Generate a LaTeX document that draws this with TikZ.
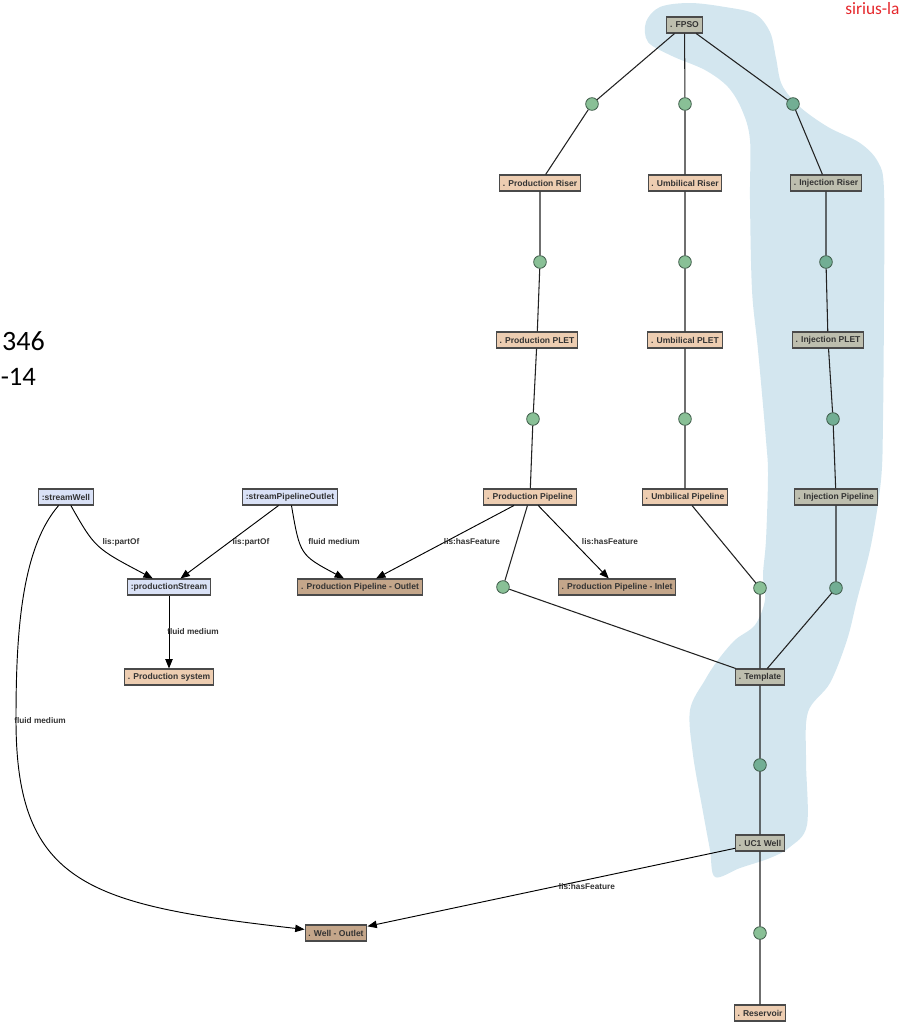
\documentclass[tikz,border=0pt]{standalone}
\usepackage{fontspec}
\setmainfont{Liberation Sans}
\newfontfamily\calibri{Carlito}
\usetikzlibrary{arrows.meta}
\definecolor{peach}{HTML}{EDCDB1}
\definecolor{grayb}{HTML}{BDBEAE}
\definecolor{brownb}{HTML}{C4A68A}
\definecolor{blueb}{HTML}{D9E1F6}
\definecolor{boxline}{HTML}{4A4A4A}
\definecolor{txt}{HTML}{333333}
\definecolor{dotg}{HTML}{89C096}
\definecolor{dott}{HTML}{72AE94}
\definecolor{dotline}{HTML}{3D5A48}
\definecolor{blobc}{HTML}{D3E6EF}
\definecolor{linkc}{HTML}{222222}
\definecolor{redt}{HTML}{E5262B}
\tikzset{
  box/.style={draw=boxline, line width=0.8pt, minimum height=12pt, inner xsep=2.5pt, inner ysep=0pt,
    font=\fontsize{6.4}{7}\selectfont\bfseries, text=txt},
  pbox/.style={box, fill=peach},
  gbox/.style={box, fill=grayb},
  bbox/.style={box, fill=brownb},
  ubox/.style={box, fill=blueb},
  gdot/.style={circle, draw=dotline, fill=dotg, minimum size=9.5pt, inner sep=0pt, line width=0.6pt},
  tdot/.style={gdot, fill=dott},
  link/.style={draw=linkc, line width=0.8pt},
  arr/.style={draw=black, line width=0.7pt, -{Triangle[length=7pt,width=5.5pt]}},
  lbl/.style={font=\fontsize{6.2}{7}\selectfont\bfseries, text=txt, inner sep=0pt}
}
\begin{document}
\begin{tikzpicture}[x=0.75pt,y=-0.75pt]
\useasboundingbox (0,0) rectangle (899,1022);
% blob
\fill[blobc] plot[smooth cycle, tension=0.55] coordinates {
(646,22) (660,7) (690,3) (725,7) (755,14) (770,32) (776,58) (782,85) (800,107) (828,127)
(860,143) (878,162) (884,190) (884,300) (883,420) (881,480) (871,545) (857,600) (847,640)
(830,683) (808,712) (806,760) (807,825) (790,847) (770,858) (740,868) (715,877) (710,850)
(703,812) (693,755) (690,710) (705,680) (718,660) (735,640) (755,625) (765,600) (763,575)
(766,540) (768,475) (766,440) (758,350) (752,290) (750,200) (750,140) (742,110) (728,87)
(705,70) (672,56) (648,42)};

% nodes
\node[gbox] (fpso) at (684.5,25) {. FPSO};
\node[gdot] (c1) at (592,104) {};
\node[gdot] (c2) at (685,104) {};
\node[tdot] (c3) at (793,104) {};
\node[pbox] (pr) at (540,183) {. Production Riser};
\node[pbox] (ur) at (685,183) {. Umbilical Riser};
\node[gbox] (ir) at (826,183) {. Injection Riser};
\node[gdot] (c4) at (540,262) {};
\node[gdot] (c5) at (685,262) {};
\node[tdot] (c6) at (826,262) {};
\node[pbox] (pp) at (537,340) {. Production PLET};
\node[pbox] (up) at (685,340) {. Umbilical PLET};
\node[gbox] (ip) at (828,340) {. Injection PLET};
\node[gdot] (c7) at (533,419) {};
\node[gdot] (c8) at (685,419) {};
\node[tdot] (c9) at (833,419) {};
\node[pbox] (ppl) at (530,497) {. Production Pipeline};
\node[pbox] (upl) at (685,497) {. Umbilical Pipeline};
\node[gbox] (ipl) at (836,497) {. Injection Pipeline};
\node[ubox] (sw) at (66,497) {:streamWell};
\node[ubox] (spo) at (290,497) {:streamPipelineOutlet};
\node[ubox] (ps) at (169,587) {:productionStream};
\node[bbox] (ppo) at (360,587) {. Production Pipeline - Outlet};
\node[gdot] (c10) at (503,587) {};
\node[bbox] (ppi) at (617,587) {. Production Pipeline - Inlet};
\node[gdot] (c11) at (760,588) {};
\node[tdot] (c12) at (836,588) {};
\node[pbox] (psys) at (169,677) {. Production system};
\node[gbox] (tpl) at (760,677) {. Template};
\node[tdot] (c13) at (760,765) {};
\node[gbox] (uc1) at (760,843) {. UC1 Well};
\node[bbox] (wo) at (336,933) {. Well - Outlet};
\node[gdot] (c14) at (760,933) {};
\node[pbox] (res) at (760,1013) {. Reservoir};

% plain links
\path[link] (fpso) -- (c1) (c1) -- (pr) (fpso) -- (c2) (c2) -- (ur) (fpso) -- (c3) (c3) -- (ir)
  (pr) -- (c4) (c4) -- (pp) (ur) -- (c5) (c5) -- (up) (ir) -- (c6) (c6) -- (ip)
  (pp) -- (c7) (c7) -- (ppl) (up) -- (c8) (c8) -- (upl) (ip) -- (c9) (c9) -- (ipl)
  (ppl) -- (c10) (c10) -- (tpl) (upl) -- (c11) (c11) -- (tpl) (ipl) -- (c12) (c12) -- (tpl)
  (tpl) -- (c13) (c13) -- (uc1) (uc1) -- (c14) (c14) -- (res);

% arrows
\coordinate (k1) at (95,548);
\coordinate (k2) at (300,555);
\coordinate (k3) at (20,550);
\coordinate (k4) at (16,640);
\coordinate (k5) at (16,885);
\coordinate (k6) at (90,905);
\draw[arr] (sw) .. controls (k1) .. (ps);
\draw[arr] (spo) -- (ps);
\draw[arr] (spo) .. controls (k2) .. (ppo);
\draw[arr] (ppl) -- (ppo);
\draw[arr] (ppl) -- (ppi);
\draw[arr] (ps) -- (psys);
\draw[arr] (uc1) -- (wo);
\draw[arr] (sw) .. controls (k3) and (k4) .. (16,720) .. controls (k5) and (k6) .. (wo);

% labels
\node[lbl] (l1) at (121,542) {lis:partOf};
\node[lbl] (l2) at (251,542) {lis:partOf};
\node[lbl] (l3) at (334,542) {fluid medium};
\node[lbl] (l4) at (472,542) {lis:hasFeature};
\node[lbl] (l5) at (610,542) {lis:hasFeature};
\node[lbl] (l6) at (193,632) {fluid medium};
\node[lbl] (l7) at (40,721) {fluid medium};
\node[lbl] (l8) at (587,887) {lis:hasFeature};

% side texts
\node[anchor=base east, inner sep=0pt, font=\calibri\fontsize{21}{24}\selectfont] (t1) at (45,350) {346};
\node[anchor=base west, inner sep=0pt, font=\calibri\fontsize{20}{24}\selectfont] (t2) at (0.5,385) {-14};
\node[anchor=base west, inner sep=0pt, text=redt, font=\calibri\fontsize{13}{15}\selectfont] (t3) at (845,14) {sirius-la};
\end{tikzpicture}
\end{document}
